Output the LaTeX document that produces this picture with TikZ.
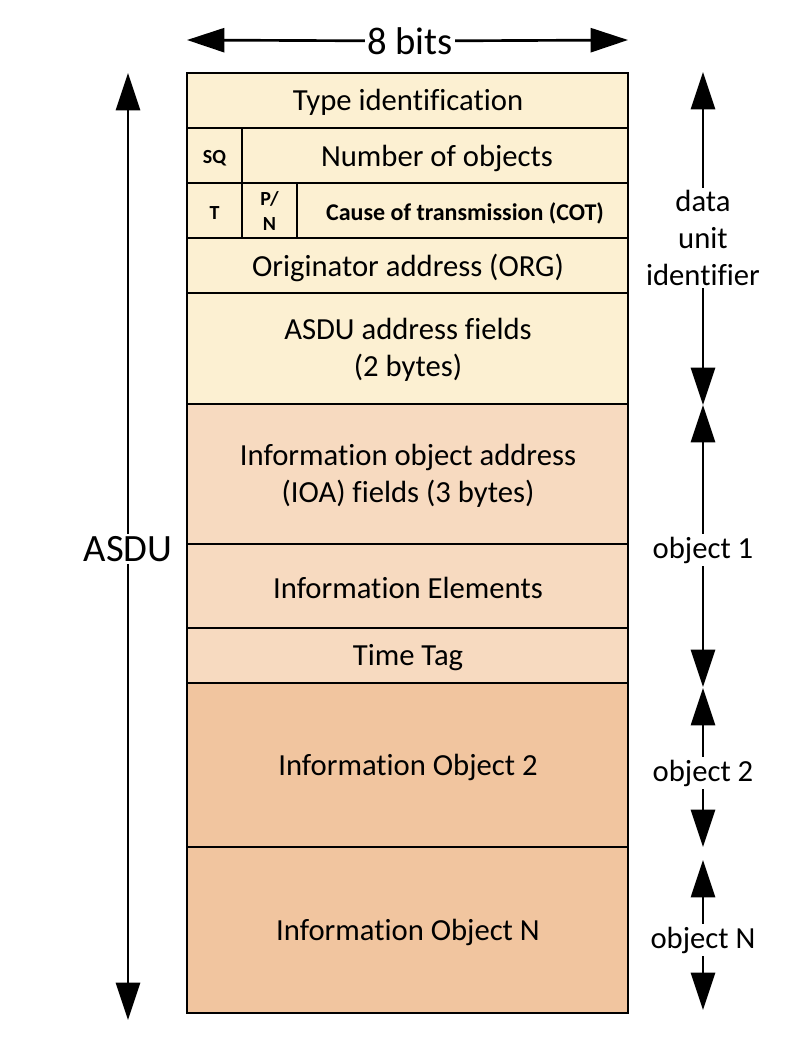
\documentclass[tikz,border=0pt]{standalone}
\usepackage{fontspec}
\setmainfont{Carlito}[Ligatures=NoCommon]
\usetikzlibrary{arrows.meta}
\definecolor{hdrfill}{HTML}{FCF0D2}
\definecolor{objfill}{HTML}{F7DAC0}
\definecolor{morefill}{HTML}{F1C59F}
\tikzset{
  field/.style={draw, line width=2pt},
  dimline/.style={line width=2pt, -{Triangle[length=28pt,width=18pt]}},
  lbl/.style={font=\fontsize{23}{27.5}\selectfont, align=center, inner sep=2pt},
  biglbl/.style={font=\fontsize{29}{34}\selectfont, inner sep=1.5pt},
  flag/.style={font=\bfseries\fontsize{15}{17}\selectfont, align=center, inner sep=1pt}
}
\begin{document}
\begin{tikzpicture}[x=0.75pt, y=-0.75pt]
\useasboundingbox (0,0) rectangle (796,1050);
% data unit identifier
\draw[field, fill=hdrfill] (187,73) rectangle (628,128);
\draw[field, fill=hdrfill] (187,128) rectangle (628,183);
\draw[field, fill=hdrfill] (187,183) rectangle (628,238);
\draw[field, fill=hdrfill] (187,238) rectangle (628,293);
\draw[field, fill=hdrfill] (187,293) rectangle (628,404);
\draw[field] (242,128) -- (242,238);
\draw[field] (297,183) -- (297,238);
\node[lbl] (typeid) at (408,102) {Type identification};
\node[flag] (sq) at (214.5,158) {SQ};
\node[lbl] (numobj) at (437,158) {Number of objects};
\node[flag] (tbit) at (214.5,213) {T};
\node[flag, font=\bfseries\fontsize{15}{19}\selectfont] (pn) at (269.5,211) {P/\\N};
\node[flag, font=\bfseries\fontsize{18}{20}\selectfont] (cot) at (465,213) {Cause of transmission (COT)};
\node[lbl] (org) at (408,268) {Originator address (ORG)};
\node[lbl] (asduaddr) at (408,350) {ASDU address fields\\(2 bytes)};
% object 1
\draw[field, fill=objfill] (187,404) rectangle (628,544);
\draw[field, fill=objfill] (187,544) rectangle (628,628);
\draw[field, fill=objfill] (187,628) rectangle (628,683);
\node[lbl] (ioa) at (408,476) {Information object address\\(IOA) fields (3 bytes)};
\node[lbl] (elems) at (408,588) {Information Elements};
\node[lbl] (ttag) at (408,658) {Time Tag};
% further objects
\draw[field, fill=morefill] (187,683) rectangle (628,847);
\draw[field, fill=morefill] (187,847) rectangle (628,1013);
\node[lbl] (obj2) at (408,767) {Information Object 2};
\node[lbl] (objn) at (408,932) {Information Object N};
% 8 bits
\node[biglbl] (width) at (410,41) {8 bits};
\coordinate (wl) at (187,40);
\coordinate (wr) at (628,40);
\draw[dimline] (width) -- (wl);
\draw[dimline] (width) -- (wr);
% ASDU
\node[biglbl] (asdu) at (128,549) {ASDU};
\coordinate (asdutop) at (128,73);
\coordinate (asdubot) at (128,1020);
\draw[dimline] (asdu) -- (asdutop);
\draw[dimline] (asdu) -- (asdubot);
% right side spans
\node[lbl] (dui) at (703,238) {data\\unit\\identifier};
\coordinate (duitop) at (703,72);
\coordinate (duibot) at (703,405);
\draw[dimline] (dui) -- (duitop);
\draw[dimline] (dui) -- (duibot);
\node[lbl] (span1) at (703,550) {object 1};
\coordinate (span1top) at (703,405);
\coordinate (span1bot) at (703,687);
\draw[dimline] (span1) -- (span1top);
\draw[dimline] (span1) -- (span1bot);
\node[lbl] (span2) at (703,773) {object 2};
\coordinate (span2top) at (703,688);
\coordinate (span2bot) at (703,847);
\draw[dimline] (span2) -- (span2top);
\draw[dimline] (span2) -- (span2bot);
\node[lbl] (spann) at (703,940) {object N};
\coordinate (spanntop) at (703,860);
\coordinate (spannbot) at (703,1010);
\draw[dimline] (spann) -- (spanntop);
\draw[dimline] (spann) -- (spannbot);
\end{tikzpicture}
\end{document}
